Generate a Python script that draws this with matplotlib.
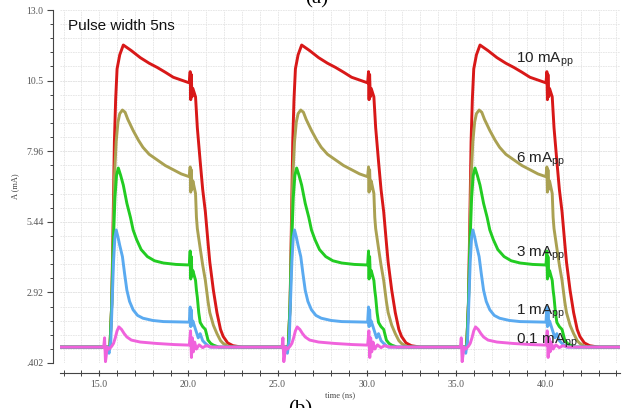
import numpy as np
import matplotlib
matplotlib.use("Agg")
import matplotlib.pyplot as plt
from matplotlib.ticker import MultipleLocator, FixedLocator

# valores (um pulso de 5ns, repetido a cada 10ns)
pulse_shift = [0, 10, 20]
baseline = 0.97

red_t = [15.0, 15.6, 15.7, 15.78, 15.85, 15.92, 16.0, 16.15, 16.35, 16.8, 17.3, 17.8, 18.25, 18.7, 19.15,
         19.6, 20.05, 20.1, 20.13, 20.16, 20.2, 20.25, 20.4, 20.5, 20.66, 20.8, 20.95, 21.1, 21.2, 21.4,
         21.6, 21.8, 21.95, 22.2, 22.5, 23.0, 25.0]
red_v = [0.97, 0.97, 2.5, 5.5, 8.3, 9.8, 10.9, 11.4, 11.75, 11.55, 11.3, 11.1, 10.95, 10.78, 10.6,
         10.5, 10.4, 10.8, 9.8, 10.7, 9.9, 10.2, 9.9, 8.8, 7.6, 6.6, 5.8, 4.7, 4.0, 3.0,
         2.2, 1.6, 1.35, 1.12, 1.02, 0.97, 0.97]

olive_t = [15.0, 15.6, 15.7, 15.78, 15.85, 15.95, 16.05, 16.15, 16.3, 16.45, 16.6, 16.9, 17.2, 17.45, 17.8,
           18.25, 18.7, 19.15, 19.6, 20.05, 20.1, 20.13, 20.16, 20.2, 20.25, 20.4, 20.45, 20.5, 20.66, 20.8,
           20.95, 21.1, 21.2, 21.4, 21.6, 21.8, 21.95, 22.3, 25.0]
olive_v = [0.97, 0.97, 2.5, 5.0, 7.0, 8.3, 9.0, 9.3, 9.43, 9.35, 9.1, 8.7, 8.35, 8.1, 7.85,
           7.65, 7.45, 7.3, 7.15, 7.05, 7.4, 6.5, 7.3, 6.6, 6.9, 6.45, 5.6, 5.2, 4.5, 3.9,
           3.35, 2.6, 2.2, 1.75, 1.45, 1.2, 1.1, 0.97, 0.97]

green_t = [15.0, 15.6, 15.7, 15.78, 15.88, 15.97, 16.07, 16.2, 16.35, 16.55, 16.75, 16.9, 17.1, 17.35, 17.7,
           18.1, 18.6, 19.3, 20.05, 20.1, 20.13, 20.16, 20.2, 20.25, 20.4, 20.45, 20.5, 20.58, 20.66, 20.8,
           20.95, 21.05, 21.1, 21.25, 21.4, 21.7, 25.0]
green_v = [0.97, 0.97, 2.5, 4.5, 6.3, 7.1, 7.36, 7.1, 6.75, 6.1, 5.6, 5.15, 4.8, 4.45, 4.2,
           4.05, 3.97, 3.92, 3.9, 4.4, 3.4, 4.2, 3.5, 3.7, 3.35, 3.0, 2.75, 2.2, 1.85, 1.7,
           1.6, 1.35, 1.22, 1.1, 1.04, 0.97, 0.97]

blue_t = [15.0, 15.45, 15.55, 15.65, 15.72, 15.8, 15.88, 15.95, 16.05, 16.15, 16.3, 16.42, 16.55, 16.7, 16.9,
          17.15, 17.45, 18.0, 18.6, 20.05, 20.1, 20.13, 20.16, 20.2, 20.25, 20.4, 20.55, 20.66, 20.8, 20.95,
          21.2, 25.0]
blue_v = [0.97, 0.97, 0.75, 1.2, 2.5, 4.0, 4.9, 5.15, 4.9, 4.6, 4.2, 3.6, 3.0, 2.6, 2.3,
          2.1, 2.0, 1.92, 1.88, 1.86, 2.4, 1.7, 2.3, 1.75, 1.9, 1.6, 1.3, 1.45, 1.2, 1.1,
          0.97, 0.97]

pink_t = [15.0, 15.25, 15.3, 15.35, 15.4, 15.45, 15.55, 15.7, 15.8, 15.9, 16.0, 16.1, 16.25, 16.4, 16.55,
          16.8, 17.3, 18.2, 19.2, 20.05, 20.12, 20.17, 20.22, 20.28, 20.35, 20.45, 20.6, 20.8, 21.0, 21.3,
          25.0]
pink_v = [0.97, 0.97, 1.3, 0.45, 0.7, 0.97, 0.9, 1.0, 1.1, 1.3, 1.55, 1.69, 1.6, 1.45, 1.33,
          1.22, 1.15, 1.1, 1.06, 1.04, 1.55, 0.6, 1.3, 0.8, 1.15, 0.9, 1.05, 0.95, 1.02, 0.97,
          0.97]

traces = [
    ("red", red_t, red_v, "#d81818"),
    ("olive", olive_t, olive_v, "#aaa152"),
    ("green", green_t, green_v, "#22cc22"),
    ("blue", blue_t, blue_v, "#5aaaf0"),
    ("pink", pink_t, pink_v, "#f062dc"),
]

y_ticks = [0.402, 2.92, 5.44, 7.96, 10.48, 13.0]
y_tick_labels = [".402", "2.92", "5.44", "7.96", "10.5", "13.0"]
x_ticks = [15, 20, 25, 30, 35, 40]
x_tick_labels = ["15.0", "20.0", "25.0", "30.0", "35.0", "40.0"]

labels = ["10 mA", "6 mA", "3 mA", "1 mA", "0.1 mA"]
label_y = [11.21, 7.65, 4.29, 2.22, 1.19]
label_x = 38.37

plt.rcParams['mathtext.fontset'] = 'custom'
plt.rcParams['mathtext.rm'] = 'Liberation Sans'

fig = plt.figure(figsize=(6.34, 4.08), dpi=100)
ax = fig.add_axes([60/634, 1-363/408, 560/634, 353/408])

for nome, t, v, cor in traces:
    tt = [12.8]
    vv = [baseline]
    for s in pulse_shift:
        tt += [x + s for x in t]
        vv += v
    ax.plot(tt, vv, color=cor, lw=2.1, solid_joinstyle='round')

for txt, y in zip(labels, label_y):
    ax.text(label_x, y, txt + r"$_{\mathrm{pp}}$", fontsize=11, family="Liberation Sans",
            color="#222222", va="center", ha="left")

ax.text(0.015, 0.975, "Pulse width 5ns", transform=ax.transAxes, fontsize=11,
        family="Liberation Sans", color="#111111", va="top", ha="left")

ax.set_xlim(12.8, 44.2)
ax.set_ylim(0.402, 13.0)

ax.yaxis.set_major_locator(FixedLocator(y_ticks))
ax.set_yticklabels(y_tick_labels)
ax.yaxis.set_minor_locator(FixedLocator(np.arange(0.402, 13.01, 2.5196/5)))
ax.xaxis.set_major_locator(FixedLocator(x_ticks))
ax.set_xticklabels(x_tick_labels)
ax.xaxis.set_minor_locator(MultipleLocator(1))

ax.grid(which="both", color="#e4e4e4", lw=0.6, linestyle=(0, (2, 1)))
ax.set_axisbelow(True)

for lado in ["top", "right"]:
    ax.spines[lado].set_visible(False)
ax.spines["left"].set_position(("outward", 5))
ax.spines["bottom"].set_position(("outward", 7))
ax.spines["left"].set_color("#444444")
ax.spines["bottom"].set_color("#444444")
ax.spines["left"].set_linewidth(0.8)
ax.spines["bottom"].set_linewidth(0.8)

ax.tick_params(axis="y", which="major", length=4, width=0.8, color="#444444",
               labelsize=7, labelcolor="#555555", pad=3)
ax.tick_params(axis="y", which="minor", length=2.5, width=0.7, color="#444444")
ax.tick_params(axis="x", which="major", direction="inout", length=5, width=0.8, color="#444444",
               labelsize=7, labelcolor="#555555", pad=3)
ax.tick_params(axis="x", which="minor", direction="inout", length=4, width=0.7, color="#444444")
for lab in ax.get_xticklabels() + ax.get_yticklabels():
    lab.set_family("Liberation Serif")

ax.set_xlabel("time (ns)", fontsize=6, family="Liberation Serif", color="#444444", labelpad=1)
ax.set_ylabel("A (mA)", fontsize=6, family="Liberation Serif", color="#444444", labelpad=5)

fig.text(317/634, 1-3/408, "(a)", fontsize=15, family="Liberation Serif", ha="center", va="baseline")
fig.text(300/634, 8/408, "(b)", fontsize=15, family="Liberation Serif", ha="center", va="top")

fig.savefig("out.png", dpi=100)
